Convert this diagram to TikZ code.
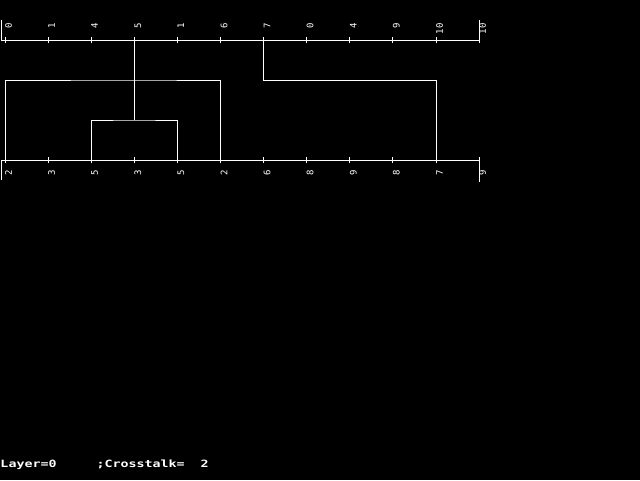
\documentclass[tikz,border=0pt]{standalone}
\usepackage{fontspec}
\newfontfamily\statfont[FakeStretch=1.33]{DejaVu Sans Mono}
\newfontfamily\tickfont{DejaVu Sans Mono}
\usetikzlibrary{positioning, calc}

\tikzset{
  toplab/.style={rotate=90, anchor=east, inner sep=0pt, font=\tickfont\fontsize{9}{9}\selectfont},
  botlab/.style={rotate=90, anchor=west, inner sep=0pt, font=\tickfont\fontsize{9}{9}\selectfont}
}

\begin{document}
\begin{tikzpicture}[x=1pt, y=-1pt, line width=1pt, white]
      \fill[black] (0,0) rectangle (640,480);
      \useasboundingbox (0,0) rectangle (640,480);

      % axis points and ticks
      \foreach \i in {0,...,11} {
        \coordinate (t\i) at (5+43.1*\i,40);
        \coordinate (b\i) at (5+43.1*\i,160);
        \draw ($(t\i)+(0,-3)$) -- ($(t\i)+(0,3)$);
        \draw ($(b\i)+(0,-3)$) -- ($(b\i)+(0,3)$);
      }
      \coordinate (tstart) at (1,20);
      \coordinate (tleft) at (1,40);
      \coordinate (bstart) at (1,180);
      \coordinate (bleft) at (1,160);
      \draw (tstart) -- (tleft) -- (t11);
      \draw (bstart) -- (bleft) -- (b11);
      \draw ($(t11)+(0,-20)$) -- ($(t11)+(0,3)$);
      \draw ($(b11)+(0,-3)$) -- ($(b11)+(0,22)$);

      \foreach \lab [count=\i from 0] in {0,1,4,5,1,6,7,0,4,9,10,10}
        \node[toplab] (tl\i) at ($(t\i)+(3.5,-17)$) {\lab};
      \foreach \lab [count=\i from 0] in {2,3,5,3,5,2,6,8,9,8,7,9}
        \node[botlab] (bl\i) at ($(b\i)+(3.5,15.5)$) {\lab};

      % tree
      \coordinate (m1) at ($(t3)+(0,80)$);
      \coordinate (m2) at ($(t3)+(0,40)$);
      \draw (b2) |- (m1) -| (b4);
      \draw (t3) -- (m1);
      \draw (b0) |- (m2) -| (b5);
      \draw (t6) |- (b10 |- m2) -- (b10);

      \node[anchor=base west, inner sep=0pt, font=\statfont\bfseries\fontsize{10}{10}\selectfont] (status) at (0,467)
        {Layer=0\phantom{00000};Crosstalk=\phantom{00}2};

\end{tikzpicture}
\end{document}
